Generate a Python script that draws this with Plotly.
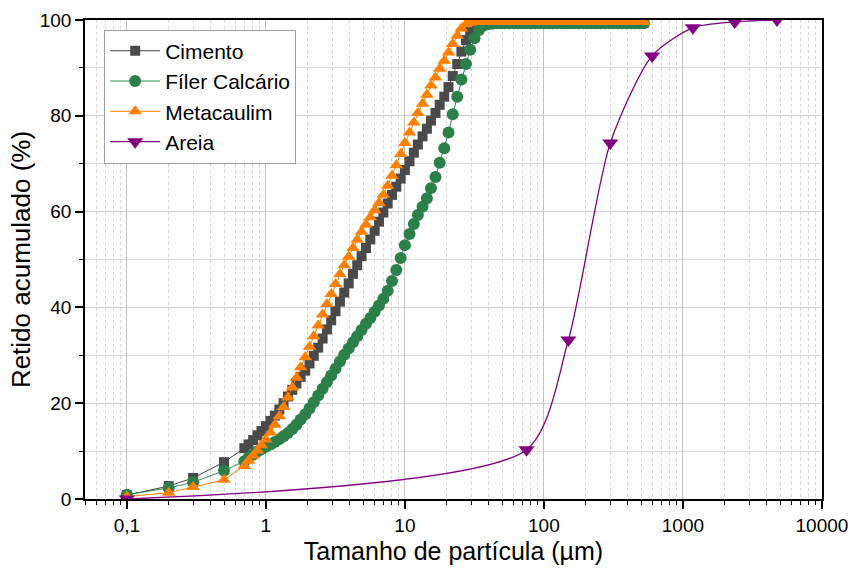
import plotly.graph_objects as go

# Laser granulometry size classes (µm)
x_laser = [0.1, 0.2, 0.3, 0.5,
           0.70, 0.75, 0.81, 0.87, 0.93, 1.00, 1.08, 1.16, 1.25, 1.34,
           1.44, 1.55, 1.66, 1.78, 1.92, 2.06, 2.21, 2.38, 2.56, 2.75,
           2.95, 3.17, 3.41, 3.66, 3.94, 4.23, 4.54, 4.88, 5.25, 5.64,
           6.06, 6.51, 7.00, 7.52, 8.08, 8.68, 9.33, 10.0, 10.8, 11.6,
           12.4, 13.4, 14.4, 15.4, 16.6, 17.8, 19.2, 20.6, 22.1, 23.8,
           25.5, 27.5, 29.5, 31.7, 34.1, 36.6, 39.3, 42.3, 45.4, 48.8,
           52.5, 56.4, 60.6, 65.1, 70.0, 75.2, 80.8, 86.8, 93.3, 100,
           108, 116, 124, 134, 144, 154, 166, 178, 192, 206,
           221, 238, 255, 274, 295, 317, 341, 366, 393, 423,
           454, 488, 524]

cimento = [0.8, 2.7, 4.4, 7.7,
           10.6, 11.4, 12.3, 13.3, 14.2, 15.2, 16.3, 17.4, 18.7, 20.0,
           21.4, 22.8, 24.1, 25.5, 26.8, 28.3, 29.9, 31.6, 33.5, 35.4,
           37.3, 39.2, 41.2, 43.1, 45.0, 47.0, 48.8, 50.7, 52.4, 54.2,
           56.0, 57.9, 59.8, 61.7, 63.5, 65.2, 66.9, 68.7, 70.5, 72.3,
           74.0, 75.7, 77.3, 79.0, 80.6, 82.3, 84.0, 86.0, 88.3, 90.8,
           93.4, 95.8, 97.7, 98.8, 99.3, 99.4, 99.4, 99.4, 99.4, 99.4,
           99.4, 99.4, 99.4, 99.4, 99.4, 99.4, 99.4, 99.4, 99.4, 99.4,
           99.4, 99.4, 99.4, 99.4, 99.4, 99.4, 99.4, 99.4, 99.4, 99.4,
           99.4, 99.4, 99.4, 99.4, 99.4, 99.4, 99.4, 99.4, 99.4, 99.4,
           99.4, 99.4, 99.4]

filer = [0.9, 2.3, 3.5, 5.9,
         7.9, 8.6, 9.3, 9.9, 10.4, 10.9, 11.4, 11.9, 12.5, 13.1,
         13.8, 14.6, 15.5, 16.6, 17.7, 18.9, 20.2, 21.6, 23.0, 24.4,
         25.8, 27.2, 28.7, 30.1, 31.4, 32.7, 34.0, 35.3, 36.6, 37.8,
         39.1, 40.4, 41.8, 43.5, 45.5, 47.8, 50.3, 53.0, 55.3, 57.4,
         59.3, 61.0, 62.8, 64.9, 67.2, 70.2, 73.2, 76.5, 80.3, 84.0,
         87.6, 90.8, 93.8, 96.2, 97.9, 98.8, 99.1, 99.2, 99.3, 99.3,
         99.3, 99.3, 99.3, 99.3, 99.3, 99.3, 99.3, 99.3, 99.3, 99.3,
         99.3, 99.3, 99.3, 99.3, 99.3, 99.3, 99.3, 99.3, 99.3, 99.3,
         99.3, 99.3, 99.3, 99.3, 99.3, 99.3, 99.3, 99.3, 99.3, 99.3,
         99.3, 99.3, 99.3]

metacaulim = [0.5, 1.3, 2.5, 4.0,
              6.9, 8.0, 9.1, 10.1, 11.2, 12.4, 13.9, 15.5, 17.3, 19.2,
              21.2, 23.3, 25.3, 27.5, 29.6, 31.8, 34.0, 36.2, 38.5, 40.7,
              42.8, 44.9, 46.9, 48.8, 50.6, 52.4, 54.1, 55.8, 57.3, 58.8,
              60.3, 61.8, 63.5, 65.4, 67.5, 69.7, 72.0, 74.3, 76.5, 78.6,
              80.6, 82.5, 84.4, 86.3, 88.0, 89.8, 91.5, 93.2, 95.0, 96.7,
              98.2, 99.1, 99.4, 99.6, 99.6, 99.6, 99.6, 99.6, 99.6, 99.6,
              99.6, 99.6, 99.6, 99.6, 99.6, 99.6, 99.6, 99.6, 99.6, 99.6,
              99.6, 99.6, 99.6, 99.6, 99.6, 99.6, 99.6, 99.6, 99.6, 99.6,
              99.6, 99.6, 99.6, 99.6, 99.6, 99.6, 99.6, 99.6, 99.6, 99.6,
              99.6, 99.6, 99.6]

# Sieve analysis of the sand (µm)
x_areia = [0.1, 75, 150, 300, 600, 1180, 2360, 4750]
areia = [0.0, 10.3, 33.2, 74.3, 92.5, 98.4, 99.6, 100.0]

x_tickvals = [0.1, 1, 10, 100, 1000, 10000]
x_ticktext = ["0,1", "1", "10", "100", "1000", "10000"]
y_tickvals = [0, 20, 40, 60, 80, 100]

minor_x = [m * 10 ** e for e in range(-2, 4) for m in range(2, 10) if m * 10 ** e >= 0.05]

FONT = "Liberation Sans, Arial, sans-serif"

fig = go.Figure()
fig.add_trace(go.Scatter(
    x=x_laser, y=cimento, name="Cimento", mode="lines+markers",
    line=dict(color="#444444", width=1),
    marker=dict(symbol="square", size=10, color="#4a4a4a")))
fig.add_trace(go.Scatter(
    x=x_laser, y=filer, name="Fíler Calcário", mode="lines+markers",
    line=dict(color="#2e8b57", width=1),
    marker=dict(symbol="circle", size=12, color="#2b8049")))
fig.add_trace(go.Scatter(
    x=x_laser, y=metacaulim, name="Metacaulim", mode="lines+markers",
    line=dict(color="#ff8000", width=1),
    marker=dict(symbol="triangle-up", size=12, color="#ff8000")))
fig.add_trace(go.Scatter(
    x=x_areia, y=areia, name="Areia", mode="lines+markers",
    line=dict(color="#800080", width=1.3, shape="spline", smoothing=0.7),
    marker=dict(symbol="triangle-down", size=14, color="#800080")))

fig.update_layout(
    width=851, height=568,
    margin=dict(l=85, r=29, t=20, b=69),
    paper_bgcolor="white", plot_bgcolor="white",
    showlegend=True,
    legend=dict(
        x=0.026, y=0.98, xanchor="left", yanchor="top",
        bgcolor="white", bordercolor="#a0a0a0", borderwidth=1,
        font=dict(family=FONT, size=21, color="black"),
        itemwidth=50, tracegroupgap=0),
)

fig.update_xaxes(
    type="log", range=[-1.30103, 4.0005], automargin=False,
    tickmode="array", tickvals=x_tickvals, ticktext=x_ticktext,
    ticks="outside", ticklen=8, tickwidth=1.5, tickcolor="black",
    tickfont=dict(family=FONT, size=19, color="black"),
    showline=True, linecolor="black", linewidth=1.5, mirror=True,
    showgrid=True, gridcolor="#c4c4c4", gridwidth=1,
    minor=dict(tickmode="array", tickvals=minor_x, ticks="outside", ticklen=4,
               tickwidth=1.2, tickcolor="black", showgrid=True,
               gridcolor="#d6d6d6", griddash="3px,3px", gridwidth=1),
    title=dict(text="Tamanho de partícula (µm)", standoff=8,
               font=dict(family=FONT, size=25, color="black")),
    zeroline=False,
)
fig.update_yaxes(
    range=[0, 100], automargin=False,
    tickmode="array", tickvals=y_tickvals,
    ticks="outside", ticklen=8, tickwidth=1.5, tickcolor="black",
    tickfont=dict(family=FONT, size=19, color="black"),
    showline=True, linecolor="black", linewidth=1.5, mirror=True,
    showgrid=True, gridcolor="#d0d0d0", gridwidth=1,
    minor=dict(dtick=10, tick0=0, ticks="outside", ticklen=4, tickwidth=1.2,
               tickcolor="black", showgrid=True, gridcolor="#dadada", gridwidth=1),
    title=dict(text="Retido acumulado (%)", standoff=2,
               font=dict(family=FONT, size=26, color="black")),
    zeroline=False,
)

fig.write_html("out.html")
